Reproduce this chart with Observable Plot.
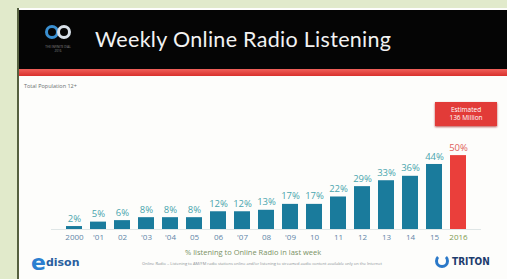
<!DOCTYPE html>
<html><head><meta charset="utf-8">
<script src="https://cdn.jsdelivr.net/npm/d3@7"></script>
<script src="https://cdn.jsdelivr.net/npm/@observablehq/plot@0.6"></script>
<style>
html,body{margin:0;padding:0;}
body{width:507px;height:279px;overflow:hidden;background:#e1eacb;font-family:"Open Sans","DejaVu Sans",sans-serif;position:relative;}
#slide{position:absolute;left:17px;top:8px;width:490px;height:271px;background:#fdfdfb;border-left:2px solid #55603f;}
#header{position:absolute;left:0;top:2px;width:490px;height:59px;background:#050505;}
#stripe{position:absolute;left:0;top:61px;width:490px;height:7px;background:linear-gradient(#f0605a,#d8302c);}
#title{position:absolute;left:76px;top:16px;color:#f2f2f2;font-size:21.5px;font-family:"Lato","Open Sans",sans-serif;letter-spacing:0.3px;}
#pop{position:absolute;left:5px;top:74px;font-size:5.5px;color:#6a7070;}
#chart{position:absolute;left:3px;top:87px;}
#est{position:absolute;left:416px;top:94px;width:62px;height:24px;background:#e23b38;color:#fff;font-size:6.5px;line-height:8px;text-align:center;box-shadow:0 1px 2px #b55;padding-top:4px;box-sizing:border-box;}
#cap{position:absolute;left:166px;top:239px;font-size:7.5px;color:#7a9264;}
#foot{position:absolute;left:88px;top:253px;width:310px;font-size:4px;line-height:6px;color:#8a9094;text-align:center;}
#edison{position:absolute;left:12px;top:242px;font-size:11px;font-weight:bold;color:#2a5f9e;font-family:"DejaVu Sans",sans-serif;}
#triton{position:absolute;left:416px;top:246px;font-size:10px;font-weight:bold;color:#1d3c6e;font-family:"DejaVu Sans Condensed","DejaVu Sans",sans-serif;}
</style></head>
<body>
<div id="slide">
  <div id="header">
    <svg width="60" height="60" style="position:absolute;left:18px;top:8px">
      <circle cx="15" cy="14" r="5.5" fill="none" stroke="#3a8fd0" stroke-width="3"/>
      <circle cx="27" cy="14" r="5.5" fill="none" stroke="#d8e0e8" stroke-width="3"/>
      <text x="21" y="30" font-size="3" fill="#8a8a8a" text-anchor="middle">THE INFINITE DIAL</text>
      <text x="21" y="34" font-size="3" fill="#8a8a8a" text-anchor="middle">2016</text>
    </svg>
    <div id="title">Weekly Online Radio Listening</div>
  </div>
  <div id="stripe"></div>
  <div id="pop">Total Population 12+</div>
  <div id="chart"></div>
  <div id="est">Estimated<br>136 Million</div>
  <div id="cap">% listening to Online Radio in last week</div>
  <div id="foot">Online Radio = Listening to AM/FM radio stations online and/or listening to streamed audio content available only on the Internet</div>
  <div id="edison"><span style="font-size:22px;color:#2b7fd0;vertical-align:middle">e</span><span style="vertical-align:middle">dison</span></div>
  <div id="triton"><span style="display:inline-block;width:14px;height:14px;border:3px solid #2a78c8;border-top-color:transparent;border-radius:50%;vertical-align:middle;margin-right:3px;box-sizing:border-box"></span><span style="vertical-align:middle">TRITON</span></div>
</div>
<script>
const years = ["2000","'01","02","'03","'04","05","06","'07","08","'09","10","11","12","13","14","15","2016"];
const values = [2,5,6,8,8,8,12,12,13,17,17,22,29,33,36,44,50];
const labels = values.map(v => v + "%");

const data = years.map((y, i) => ({year: y, value: values[i], label: labels[i], last: i === years.length - 1}));

const chart = Plot.plot({
  width: 480,
  height: 150,
  marginLeft: 29,
  marginRight: 21,
  marginTop: 1,
  marginBottom: 16,
  style: {background: "transparent", fontFamily: "Open Sans, DejaVu Sans, sans-serif"},
  x: {domain: years, padding: 0.33, label: null},
  y: {domain: [0, 90], axis: null},
  marks: [
    Plot.barY(data, {x: "year", y: "value", fill: d => d.last ? "#ea3f3b" : "#1a7b9c"}),
    Plot.text(data, {x: "year", y: "value", text: "label", dy: -8, fontSize: 9.5, fill: d => d.last ? "#e0605a" : "#4aa5ae"}),
    Plot.axisX({tickSize: 0, tickPadding: 5, fontSize: 8, label: null, fill: "#5f86a8"}),
    Plot.ruleY([0], {stroke: "#dfe6e6"})
  ]
});
chart.querySelectorAll("g[aria-label='x-axis tick label'] text").forEach(t => {
  if (t.textContent === "2016") t.setAttribute("fill", "#7f9a52");
});
document.getElementById("chart").appendChild(chart);
</script>
</body></html>
